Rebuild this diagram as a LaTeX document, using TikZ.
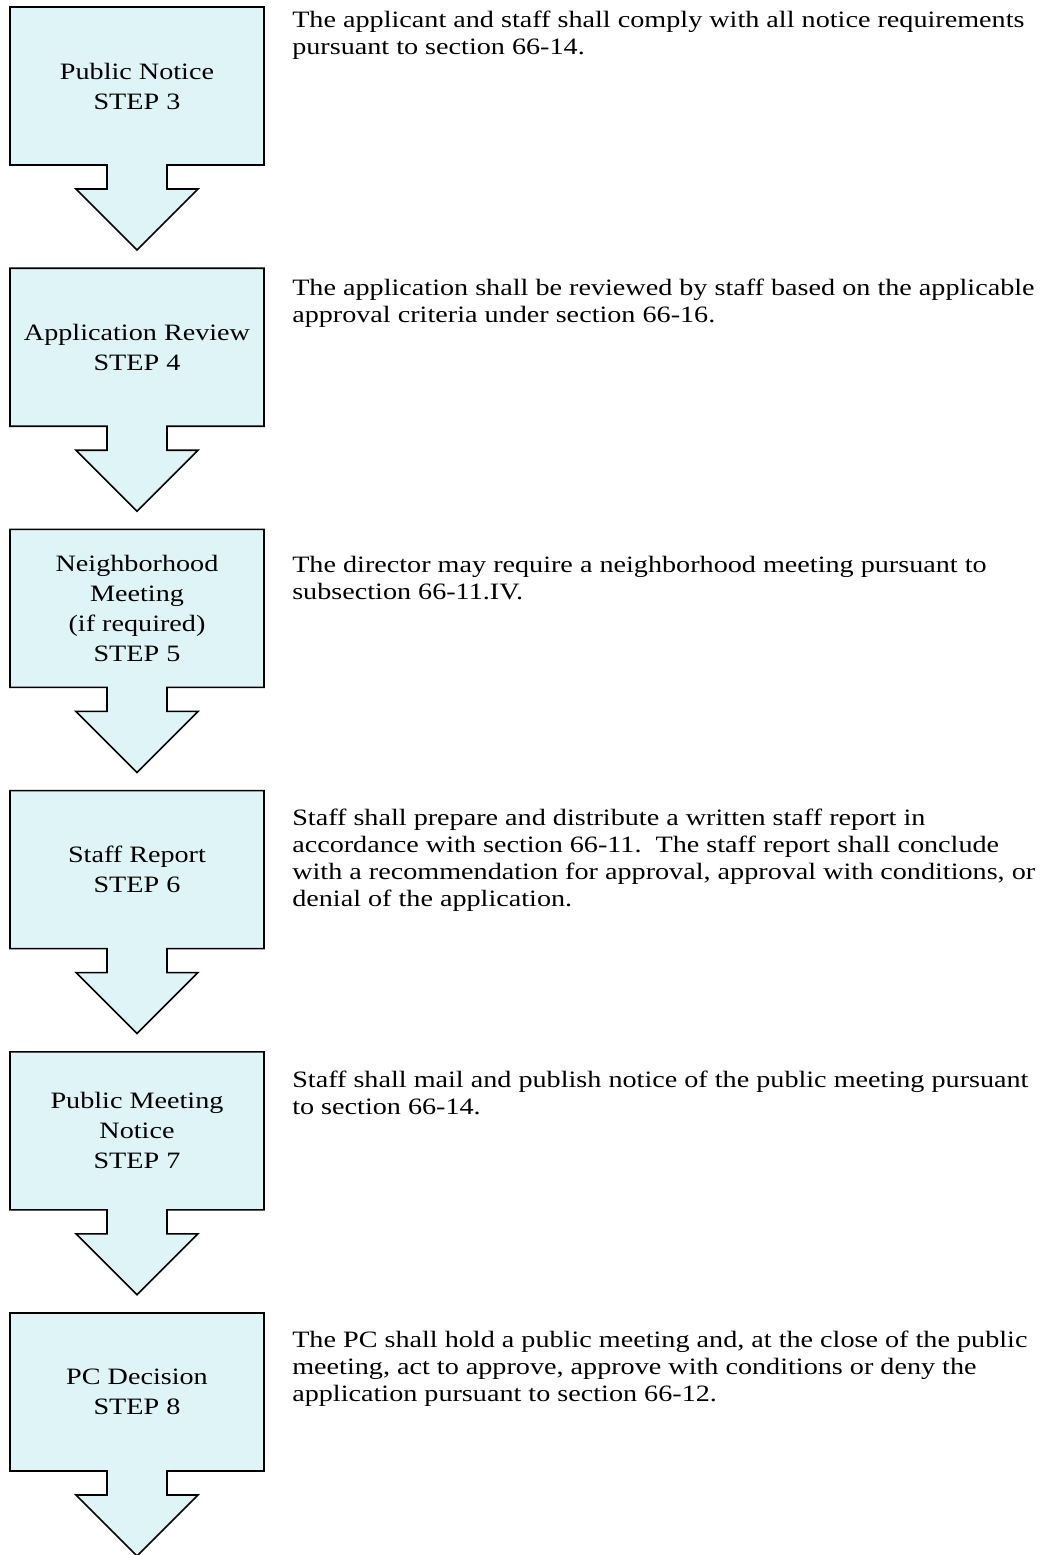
\documentclass[tikz,border=0pt]{standalone}
\usepackage{fontspec}
\setmainfont[FakeStretch=1.2]{Liberation Serif}
\definecolor{boxfill}{RGB}{223,244,247}
\tikzset{
  shapestyle/.style={draw=black, fill=boxfill, line width=1.2pt, line join=miter},
  labeltext/.style={align=center, inner sep=0pt, font=\fontsize{17.6pt}{22.5pt}\selectfont},
  bodytext/.style={anchor=north west, align=left, inner sep=0pt, font=\fontsize{17.6pt}{20.25pt}\selectfont},
  stepshape/.pic={
    \draw[shapestyle] (-127,0) -- (127,0) -- (127,158) -- (30,158) -- (30,182)
      -- (61,182) -- (0,243) -- (-61,182) -- (-30,182) -- (-30,158) -- (-127,158) -- cycle;
  }
}
\begin{document}
\begin{tikzpicture}[x=0.75pt, y=-0.75pt]
\useasboundingbox (0,0) rectangle (1058,1555);
% shapes
\pic at (137,7) {stepshape};
\pic at (137,268.2) {stepshape};
\pic at (137,529.4) {stepshape};
\pic at (137,790.6) {stepshape};
\pic at (137,1051.8) {stepshape};
\pic at (137,1313) {stepshape};
% labels
\node[labeltext] (l3) at (137,86) {Public Notice\\STEP 3};
\node[labeltext] (l4) at (137,347.2) {Application Review\\STEP 4};
\node[labeltext] (l5) at (137,608.4) {Neighborhood\\Meeting\\(if required)\\STEP 5};
\node[labeltext] (l6) at (137,869.6) {Staff Report\\STEP 6};
\node[labeltext] (l7) at (137,1130.8) {Public Meeting\\Notice\\STEP 7};
\node[labeltext] (l8) at (137,1392) {PC Decision\\STEP 8};
% descriptions
\node[bodytext] (t3) at (292,11) {The applicant and staff shall comply with all notice requirements\\pursuant to section 66-14.};
\node[bodytext] (t4) at (292,279) {The application shall be reviewed by staff based on the applicable\\approval criteria under section 66-16.};
\node[bodytext] (t5) at (292,556) {The director may require a neighborhood meeting pursuant to\\subsection 66-11.IV.};
\node[bodytext] (t6) at (292,809) {Staff shall prepare and distribute a written staff report in\\accordance with section 66-11.\ \ The staff report shall conclude\\with a recommendation for approval, approval with conditions, or\\denial of the application.};
\node[bodytext] (t7) at (292,1071) {Staff shall mail and publish notice of the public meeting pursuant\\to section 66-14.};
\node[bodytext] (t8) at (292,1331) {The PC shall hold a public meeting and, at the close of the public\\meeting, act to approve, approve with conditions or deny the\\application pursuant to section 66-12.};
\end{tikzpicture}
\end{document}
